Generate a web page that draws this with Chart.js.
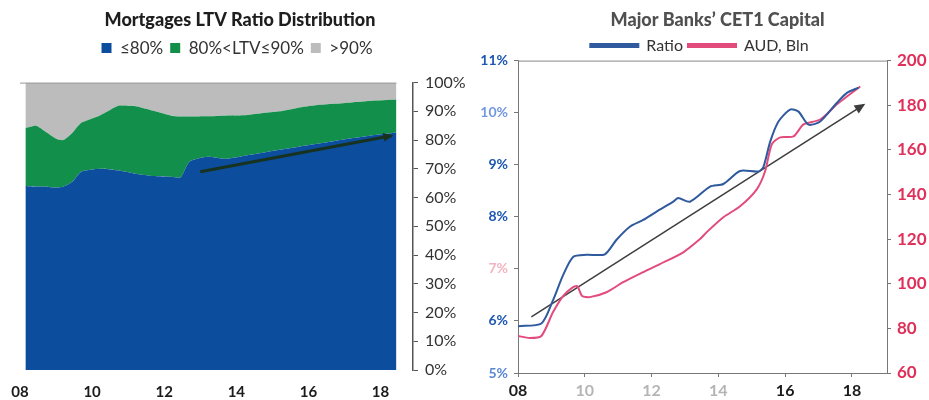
<!DOCTYPE html>
<html>
<head>
<meta charset="utf-8">
<script src="https://cdn.jsdelivr.net/npm/chart.js@4.4.1/dist/chart.umd.min.js"></script>
<style>
  html, body { margin: 0; padding: 0; background: #ffffff; }
  #wrap { position: relative; width: 929px; height: 400px; }
  #ltvChart { position: absolute; left: 0; top: 0; }
  #cetChart { position: absolute; left: 470px; top: 0; }
</style>
</head>
<body>
<div id="wrap">
  <canvas id="ltvChart" width="470" height="400"></canvas>
  <canvas id="cetChart" width="459" height="400"></canvas>
</div>
<script>
// ---- Mortgages LTV ratio distribution: share of loans in each band (%) ----
const ltvYears = [2008.15, 2008.45, 2008.7, 2009.0, 2009.2, 2009.45, 2009.7, 2010.2, 2010.5, 2010.75,
                  2011.2, 2011.7, 2012.2, 2012.45, 2012.7, 2013.2, 2013.7, 2014.2, 2014.7, 2015.2,
                  2015.7, 2016.2, 2016.7, 2017.2, 2017.7, 2018.44];
const ltvUpTo80 = [64.0, 63.8, 63.8, 63.5, 63.8, 65.5, 69.0, 70.0, 69.8, 69.4,
                   68.3, 67.5, 67.2, 67.0, 72.5, 74.2, 73.5, 74.5, 75.5, 76.6,
                   77.6, 78.6, 79.6, 80.6, 81.5, 82.6];
const ltv80to90 = [20.2, 21.2, 19.2, 17.0, 16.2, 17.0, 17.0, 18.5, 20.7, 22.6,
                   23.5, 22.7, 21.3, 21.2, 15.7, 14.1, 15.0, 14.1, 13.8, 13.4,
                   13.6, 13.5, 13.0, 12.5, 12.1, 11.5];
const ltvAbove90 = [15.8, 15.0, 17.0, 19.5, 20.0, 17.5, 14.0, 11.5, 9.5, 8.0,
                    8.2, 9.8, 11.5, 11.8, 11.8, 11.7, 11.5, 11.4, 10.7, 10.0,
                    8.8, 7.9, 7.4, 6.9, 6.4, 5.9];
const ltvTrendYears = [2013.0, 2018.3];
const ltvTrendValues = [69.0, 81.5];
const ltvBandLabels = ['\u226480%', '80%<LTV\u226490%', '>90%'];

// ---- Major banks' CET1 capital: ratio (%) and amount (AUD bn) ----
const ratioYears = [2008.0, 2008.7, 2009.05, 2009.35, 2009.65, 2010.05, 2010.6, 2010.95, 2011.35, 2011.75,
                    2012.15, 2012.65, 2012.8, 2013.15, 2013.75, 2014.15, 2014.65, 2015.2, 2015.35, 2015.55,
                    2015.8, 2016.15, 2016.4, 2016.7, 2017.05, 2017.55, 2017.85, 2018.2];
const ratioValues = [5.90, 5.95, 6.40, 6.88, 7.23, 7.27, 7.28, 7.56, 7.81, 7.94,
                     8.10, 8.29, 8.36, 8.29, 8.58, 8.63, 8.88, 8.87, 8.96, 9.44,
                     9.83, 10.06, 10.02, 9.77, 9.83, 10.19, 10.38, 10.48];
const audYears = [2008.0, 2008.35, 2008.7, 2009.05, 2009.35, 2009.65, 2009.78, 2009.92, 2010.15, 2010.65,
                  2011.15, 2011.75, 2012.25, 2012.95, 2013.45, 2013.65, 2014.15, 2014.65, 2015.15, 2015.4,
                  2015.6, 2015.85, 2016.25, 2016.55, 2017.05, 2017.55, 2017.85, 2018.25];
const audValues = [76.6, 75.7, 76.6, 87.3, 94.5, 98.5, 98.9, 94.5, 94.0, 96.2,
                   100.7, 105.2, 108.8, 114.1, 120.0, 123.1, 129.8, 134.7, 142.3, 150.4,
                   162.5, 165.6, 166.0, 171.4, 173.6, 180.4, 183.9, 188.4];
const capTrendYears = [2008.4, 2018.35];
const capTrendValues = [6.08, 10.15];
const cetSeriesLabels = ['Ratio', 'AUD, Bln'];

// ---- Shared axis ticks ----
const yearTicks = [2008, 2010, 2012, 2014, 2016, 2018];
const yearTickLabels = ['08', '10', '12', '14', '16', '18'];
const shareTicks = [0, 10, 20, 30, 40, 50, 60, 70, 80, 90, 100];
const ratioTicks = [5, 6, 7, 8, 9, 10, 11];
const audTicks = [60, 80, 100, 120, 140, 160, 180, 200];

const pts = (xs, ys) => xs.map((x, i) => ({ x: x, y: ys[i] }));
const setTicks = (values) => (scale) => { scale.ticks = values.map(v => ({ value: v })); };
const yearLabel = (v) => { const i = yearTicks.indexOf(v); return i >= 0 ? yearTickLabels[i] : ''; };

// Arrowhead at the end of any dataset flagged with `arrowSize`
const arrowHeads = {
  id: 'arrowHeads',
  afterDatasetsDraw(chart) {
    const ctx = chart.ctx;
    chart.data.datasets.forEach((ds, i) => {
      if (!ds.arrowSize) return;
      const els = chart.getDatasetMeta(i).data;
      const a = els[els.length - 2], b = els[els.length - 1];
      const ang = Math.atan2(b.y - a.y, b.x - a.x);
      const L = ds.arrowSize;
      ctx.save();
      ctx.fillStyle = ds.borderColor;
      ctx.beginPath();
      ctx.moveTo(b.x + Math.cos(ang) * 2, b.y + Math.sin(ang) * 2);
      ctx.lineTo(b.x - L * Math.cos(ang - 0.5), b.y - L * Math.sin(ang - 0.5));
      ctx.lineTo(b.x - L * Math.cos(ang + 0.5), b.y - L * Math.sin(ang + 0.5));
      ctx.closePath();
      ctx.fill();
      ctx.restore();
    });
  }
};

// Thin frame line along the top of the plot area
const topFrame = {
  id: 'topFrame',
  afterDatasetsDraw(chart, args, opts) {
    const { left, right, top } = chart.chartArea;
    const ctx = chart.ctx;
    ctx.save();
    ctx.strokeStyle = opts.color || '#888';
    ctx.lineWidth = 1;
    ctx.beginPath();
    ctx.moveTo(left, top + 0.5);
    ctx.lineTo(opts.right ? opts.right(chart) : right, top + 0.5);
    ctx.stroke();
    ctx.restore();
  }
};

// Fine placement of the title and legend blocks
const headerTune = {
  id: 'headerTune',
  beforeLayout(chart, args, opts) {
    const lg = chart.legend;
    if (lg && !lg.__tuned) {
      const fit = lg.fit.bind(lg);
      lg.fit = function () { fit(); this.height += (opts.legendExtra || 0); };
      lg.__tuned = true;
    }
  },
  afterLayout(chart, args, opts) {
    const t = chart.titleBlock;
    if (t && opts.titleDx) { t.left += opts.titleDx; t.right += opts.titleDx; }
    const lg = chart.legend;
    if (lg && opts.legendDx) { lg.left += opts.legendDx; lg.right += opts.legendDx; }
  }
};

Chart.defaults.font.family = 'Lato, "Open Sans", sans-serif';
Chart.defaults.animation = false;

// ---------------- Left: stacked area ----------------
new Chart(document.getElementById('ltvChart'), {
  type: 'line',
  data: {
    datasets: [
      { label: ltvBandLabels[0], data: pts(ltvYears, ltvUpTo80), backgroundColor: '#0c4d9d',
        borderColor: '#0c4d9d', borderWidth: 0, pointRadius: 0, fill: 'origin', tension: 0.2, yAxisID: 'y' },
      { label: ltvBandLabels[1], data: pts(ltvYears, ltv80to90), backgroundColor: '#12904b',
        borderColor: '#12904b', borderWidth: 0, pointRadius: 0, fill: '-1', tension: 0.2, yAxisID: 'y' },
      { label: ltvBandLabels[2], data: pts(ltvYears, ltvAbove90), backgroundColor: '#bcbcbc',
        borderColor: '#bcbcbc', borderWidth: 0, pointRadius: 0, fill: '-1', tension: 0.2, yAxisID: 'y' },
      { label: 'trend', data: pts(ltvTrendYears, ltvTrendValues), borderColor: '#17331f',
        borderWidth: 3, pointRadius: 0, fill: false, yAxisID: 'yTrend', arrowSize: 9, order: -1 }
    ]
  },
  options: {
    responsive: false,
    layout: { padding: { left: 20, right: 0, top: 0, bottom: 0 } },
    scales: {
      x: {
        type: 'linear', min: 2008, max: 2018.9,
        afterBuildTicks: setTicks(yearTicks),
        afterFit: (s) => { s.height = 30; },
        ticks: { callback: yearLabel, color: '#1b1b1b', font: { size: 15, weight: 'bold' }, padding: 5, maxRotation: 0 },
        grid: { display: false }, border: { display: false }
      },
      y: {
        position: 'right', stacked: true, min: 0, max: 100,
        afterBuildTicks: setTicks(shareTicks),
        afterFit: (s) => { s.width = 57; },
        ticks: { callback: (v) => v + '%', color: '#333', font: { size: 16 }, padding: 7 },
        grid: { drawOnChartArea: false, tickLength: 5, color: '#555' },
        border: { color: '#555', width: 1.5 }
      },
      yTrend: { display: false, min: 0, max: 100, stacked: false }
    },
    plugins: {
      title: { display: true, text: 'Mortgages LTV Ratio Distribution', color: '#1e1e1e',
               font: { size: 18, weight: '900' }, padding: { top: 9, bottom: 2 } },
      legend: {
        labels: { filter: (item) => item.text !== 'trend', color: '#333', font: { size: 17 },
                  boxWidth: 10, boxHeight: 10, padding: 7 }
      },
      tooltip: { enabled: false },
      topFrame: { color: '#999', right: (c) => c.scales.x.getPixelForValue(ltvYears[ltvYears.length - 1]) },
      headerTune: { titleDx: -5, legendDx: -8, legendExtra: 16 }
    }
  },
  plugins: [arrowHeads, topFrame, headerTune]
});

// ---------------- Right: dual-axis lines ----------------
const ratioTickColors = ['#5a86d6', '#1b56b0', '#f2b3c2', '#1b56b0', '#1b56b0', '#7398de', '#1b56b0'];
const yearTickColors = ['#1b1b1b', '#b5b5b5', '#b5b5b5', '#b5b5b5', '#1b1b1b', '#1b1b1b'];

new Chart(document.getElementById('cetChart'), {
  type: 'line',
  data: {
    datasets: [
      { label: cetSeriesLabels[0], data: pts(ratioYears, ratioValues), borderColor: '#2f5a9e',
        backgroundColor: '#2f5a9e', borderWidth: 2, pointRadius: 0, fill: false, tension: 0.25, yAxisID: 'y' },
      { label: cetSeriesLabels[1], data: pts(audYears, audValues), borderColor: '#e24b7c',
        backgroundColor: '#e24b7c', borderWidth: 2, pointRadius: 0, fill: false, tension: 0.25, yAxisID: 'y1' },
      { label: 'trend', data: pts(capTrendYears, capTrendValues), borderColor: '#3d3d3d',
        backgroundColor: '#3d3d3d', borderWidth: 1.5, pointRadius: 0, fill: false, yAxisID: 'y', arrowSize: 10 }
    ]
  },
  options: {
    responsive: false,
    layout: { padding: { left: 0, right: 0, top: 0, bottom: 0 } },
    scales: {
      x: {
        type: 'linear', min: 2008, max: 2019.05,
        afterBuildTicks: setTicks(yearTicks),
        afterFit: (s) => { s.height = 27; },
        ticks: { callback: yearLabel, color: yearTickColors, font: { size: 16, weight: 'bold' }, padding: 4, maxRotation: 0 },
        grid: { drawOnChartArea: false, tickLength: 4, color: '#777' },
        border: { color: '#777', width: 1 }
      },
      y: {
        position: 'left', min: 5, max: 11,
        afterBuildTicks: setTicks(ratioTicks),
        afterFit: (s) => { s.width = 48; },
        ticks: { callback: (v) => v + '%', color: ratioTickColors, font: { size: 14, weight: 'bold' }, padding: 6 },
        grid: { drawOnChartArea: false, tickLength: 4, color: '#777' },
        border: { color: '#777', width: 1 }
      },
      y1: {
        position: 'right', min: 60, max: 200,
        afterBuildTicks: setTicks(audTicks),
        afterFit: (s) => { s.width = 42; },
        ticks: { color: '#e0305a', font: { size: 17, weight: 'bold' }, padding: 6 },
        grid: { drawOnChartArea: false, tickLength: 4, color: '#777' },
        border: { color: '#777', width: 1 }
      }
    },
    plugins: {
      title: { display: true, text: 'Major Banks\u2019 CET1 Capital', color: '#505050',
               font: { size: 18, weight: '900' }, padding: { top: 9, bottom: 2 } },
      legend: {
        labels: { filter: (item) => item.text !== 'trend', color: '#333', font: { size: 16 },
                  boxWidth: 48, boxHeight: 3, padding: 5 }
      },
      tooltip: { enabled: false },
      topFrame: { color: '#888' },
      headerTune: { titleDx: 18, legendDx: 0, legendExtra: -3 }
    }
  },
  plugins: [arrowHeads, topFrame, headerTune]
});
</script>
</body>
</html>
